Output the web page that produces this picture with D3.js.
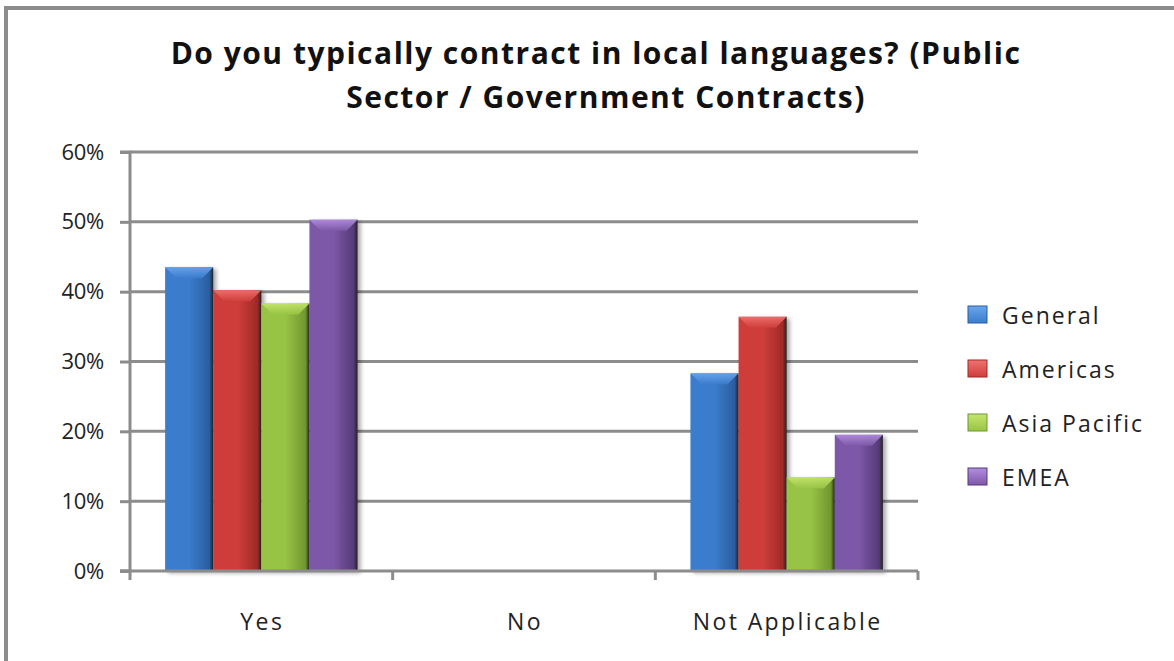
<!DOCTYPE html>
<html><head><meta charset="utf-8">
<script src="https://cdn.jsdelivr.net/npm/d3@7"></script>
<style>html,body{margin:0;padding:0;background:#fff;}svg{display:block;}</style>
</head><body>
<script>
const categories = ["Yes", "No", "Not Applicable"];
const seriesNames = ["General", "Americas", "Asia Pacific", "EMEA"];
const general = [43.5, 0, 28.3];
const americas = [40.2, 0, 36.4];
const asiaPacific = [38.3, 0, 13.4];
const emea = [50.3, 0, 19.5];
const yTicks = [0, 10, 20, 30, 40, 50, 60];
const titleLines = ["Do you typically contract in local languages? (Public", "Sector / Government Contracts)"];

(function () {
const seriesValues = [general, americas, asiaPacific, emea];
const colors = [
  {base:"#3b7ccc", light:"#6aa6ee", dark:"#2a5d9f"},
  {base:"#cf3e3a", light:"#ef7370", dark:"#9e2a27"},
  {base:"#98c444", light:"#c4e66e", dark:"#6f9630"},
  {base:"#7d58a8", light:"#b38ee0", dark:"#553a78"}
];

const W = 1174, H = 661;
const svg = d3.select("body").append("svg").attr("width", W).attr("height", H);
const defs = svg.append("defs");
colors.forEach((c, i) => {
  const g = defs.append("linearGradient").attr("id", "g" + i).attr("x1", 0).attr("x2", 1).attr("y1", 0).attr("y2", 0);
  g.append("stop").attr("offset", "0%").attr("stop-color", c.base);
  g.append("stop").attr("offset", "50%").attr("stop-color", c.base);
  g.append("stop").attr("offset", "92%").attr("stop-color", c.dark);
  g.append("stop").attr("offset", "100%").attr("stop-color", "#222");
  const t = defs.append("linearGradient").attr("id", "t" + i).attr("x1", 0).attr("x2", 0).attr("y1", 0).attr("y2", 1);
  t.append("stop").attr("offset", "0%").attr("stop-color", c.light);
  t.append("stop").attr("offset", "100%").attr("stop-color", c.base);
});
const sh = defs.append("filter").attr("id", "shadow").attr("x", "-20%").attr("y", "-5%").attr("width", "150%").attr("height", "115%");
sh.append("feGaussianBlur").attr("in", "SourceAlpha").attr("stdDeviation", 2);
sh.append("feOffset").attr("dx", 3).attr("dy", 2).attr("result", "b");
sh.append("feComponentTransfer").append("feFuncA").attr("type", "linear").attr("slope", 0.35);
const mg = sh.append("feMerge"); mg.append("feMergeNode"); mg.append("feMergeNode").attr("in", "SourceGraphic");

// frame
svg.append("path").attr("d", `M6,${H} V8 H${W}`).attr("fill", "none").attr("stroke", "#8c8c8c").attr("stroke-width", 4);

const pLeft = 130, pRight = 918, pTop = 152, pBottom = 571;
const x0 = d3.scaleBand().domain(categories).range([pLeft, pRight]).paddingInner(0).paddingOuter(0);
const x1 = d3.scaleBand().domain(seriesNames).range([0, x0.bandwidth()]).paddingOuter(0.73).paddingInner(0);
const y = d3.scaleLinear().domain([0, 60]).range([pBottom, pTop]);

// gridlines
svg.append("g").selectAll("line").data(yTicks.filter(d => d > 0)).join("line")
  .attr("x1", pLeft).attr("x2", pRight).attr("y1", d => y(d)).attr("y2", d => y(d))
  .attr("stroke", "#8c8c8c").attr("stroke-width", 3);

// y axis
const yAxis = d3.axisLeft(y).tickValues(yTicks).tickFormat(d => d + "%").tickSize(10).tickPadding(16);
const ya = svg.append("g").attr("transform", `translate(${pLeft},0)`).call(yAxis);
ya.select(".domain").attr("stroke", "#8c8c8c").attr("stroke-width", 3).attr("d", `M-10,${pTop}H0V${pBottom}H-10`);
ya.selectAll(".tick line").attr("stroke", "#8c8c8c").attr("stroke-width", 3);
ya.selectAll(".tick text").attr("font-family", "Open Sans").attr("font-size", 22).attr("letter-spacing", -0.3).attr("fill", "#222");

// bars
const groups = svg.append("g").selectAll("g").data(categories).join("g")
  .attr("transform", d => `translate(${x0(d)},0)`);
groups.each(function(cat, ci) {
  const g = d3.select(this);
  seriesNames.forEach((s, si) => {
    const v = seriesValues[si][ci];
    if (v <= 0) return;
    const bx = x1(s), bw = x1.bandwidth(), by = y(v), bh = pBottom - y(v);
    const bg = g.append("g").attr("filter", "url(#shadow)");
    bg.append("rect").attr("x", bx).attr("y", by).attr("width", bw).attr("height", bh).attr("fill", `url(#g${si})`);
    const bev = 11;
    bg.append("path").attr("d", `M${bx},${by}H${bx + bw}L${bx + bw - bev},${by + bev}H${bx + bev}Z`).attr("fill", `url(#t${si})`).attr("opacity", 0.9);
  });
});

// x axis
const xa = svg.append("g").attr("transform", `translate(0,${pBottom})`);
xa.append("line").attr("x1", pLeft - 10).attr("x2", pRight).attr("y1", 0).attr("y2", 0).attr("stroke", "#8c8c8c").attr("stroke-width", 3);
const boundaries = categories.map(c => x0(c)).concat([pRight]);
xa.selectAll("line.tk").data(boundaries).join("line").attr("class", "tk")
  .attr("x1", d => d).attr("x2", d => d).attr("y1", 0).attr("y2", 9).attr("stroke", "#8c8c8c").attr("stroke-width", 3);
xa.selectAll("text").data(categories).join("text")
  .attr("x", d => x0(d) + x0.bandwidth() / 2 + 1).attr("y", 59).attr("text-anchor", "middle")
  .attr("font-family", "Open Sans").attr("font-size", 23).attr("letter-spacing", 2.4).attr("fill", "#222").text(d => d);

// title
svg.append("g").selectAll("text").data(titleLines).join("text")
  .attr("x", (d, i) => i === 0 ? 596 : 606).attr("y", (d, i) => 64 + i * 44).attr("text-anchor", "middle")
  .attr("font-family", "Open Sans").attr("font-weight", "bold").attr("font-size", 30).attr("letter-spacing", 1.5).attr("fill", "#111")
  .text(d => d);

// legend
const lg = svg.append("g").selectAll("g").data(seriesNames).join("g")
  .attr("transform", (d, i) => `translate(968,${315 + i * 54})`);
lg.append("rect").attr("x", 0).attr("y", -9).attr("width", 19).attr("height", 17)
  .attr("fill", (d, i) => `url(#t${i})`).attr("stroke", (d, i) => colors[i].dark).attr("stroke-width", 1);
lg.append("text").attr("x", 34).attr("y", 9).attr("font-family", "Open Sans").attr("font-size", 23).attr("letter-spacing", 2)
  .attr("fill", "#222").text(d => d);
})();
</script>
</body></html>
